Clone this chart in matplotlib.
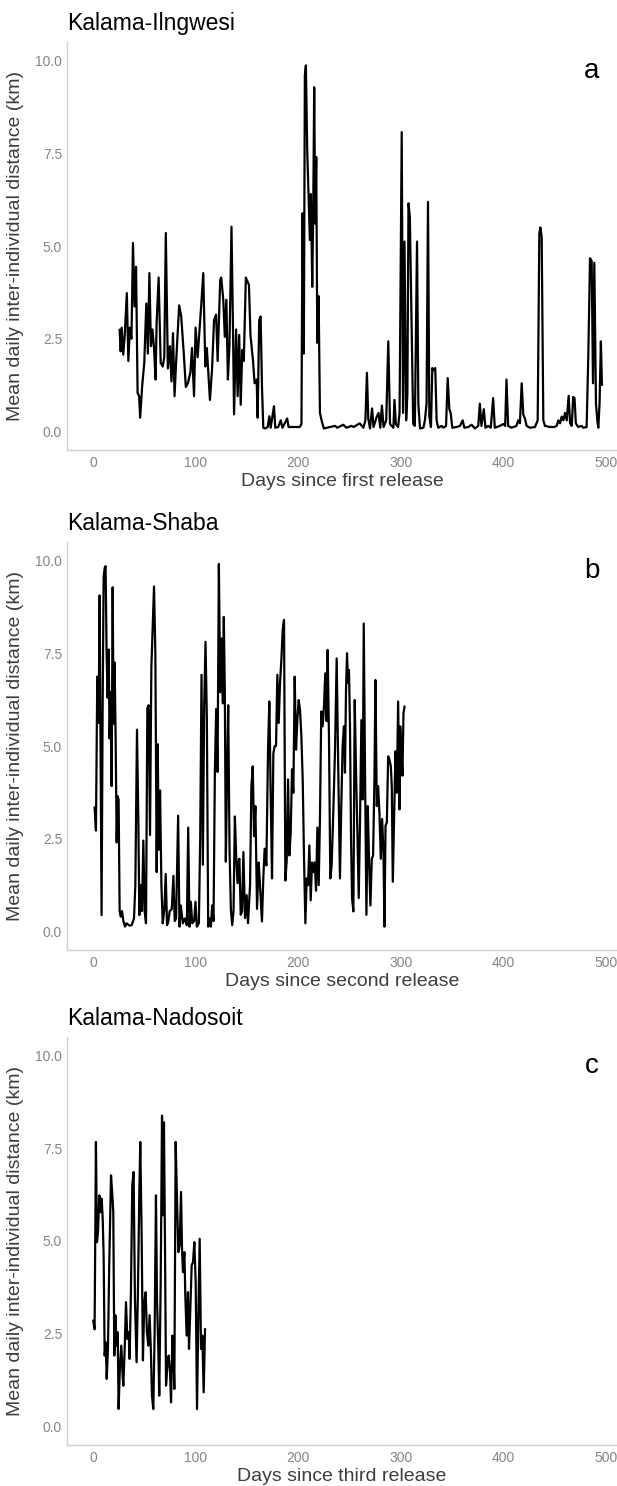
import matplotlib
matplotlib.use("Agg")
import matplotlib.pyplot as plt

plt.rcParams['font.family'] = ['Liberation Sans', 'DejaVu Sans']

# ---------------- data: (day, mean daily inter-individual distance km) ----------------
points_a = [
    (26, 2.74), (27, 2.16), (28, 2.80), (29.5, 2.07), (31, 2.60), (33, 3.73), (34.5, 1.90), (36, 2.80),
    (37.5, 2.50), (39, 5.08), (40.5, 3.37), (42, 4.44), (43.5, 1.04), (45, 0.95), (46, 0.37), (48, 1.24),
    (50, 1.85), (52, 3.45), (53.5, 2.10), (55, 4.27), (56.5, 2.30), (58, 2.75), (59.5, 2.25), (61, 1.40),
    (62, 2.90), (64, 4.15), (66, 1.85), (68, 1.75), (69.5, 2.00), (71, 5.35), (73, 1.70), (75, 2.30),
    (76.5, 1.35), (78, 2.65), (79.5, 0.95), (81, 1.85), (84, 3.40), (86, 3.10), (88.5, 2.10), (90.5, 1.20),
    (92.5, 1.30), (95, 1.60), (96.5, 2.25), (98.5, 0.95), (100, 2.80), (102, 2.00), (104, 2.80),
    (105.5, 3.40), (107.5, 4.27), (109.5, 1.75), (111, 2.25), (114, 0.85), (116, 1.65), (118, 3.00),
    (120, 3.15), (121.5, 1.90), (124, 4.08), (125, 4.15), (127, 3.55), (128.5, 2.55), (130, 3.55),
    (131.5, 1.40), (133, 2.30), (135, 5.52), (136.5, 2.70), (137.5, 0.46), (139.5, 2.75), (141, 0.95),
    (142.5, 2.60), (144, 0.72), (145.5, 2.20), (147, 1.90), (149, 4.15), (150.5, 4.05), (152, 3.95),
    (153.5, 2.60), (156, 1.90), (157.5, 1.30), (159.5, 1.40), (160.5, 0.37), (162, 3.00), (163.4, 3.10),
    (164.7, 1.22), (166, 0.10), (167.7, 0.08), (170.3, 0.12), (171.9, 0.41), (173.2, 0.10), (176.4, 0.68),
    (177.7, 0.10), (180.6, 0.12), (183, 0.30), (184.7, 0.10), (189.3, 0.35), (190.6, 0.12), (195, 0.12),
    (198.3, 0.12), (201.5, 0.12), (203.2, 0.20), (204.2, 5.88), (205.5, 2.10), (206.5, 9.60),
    (207.5, 9.87), (208.8, 7.58), (210.1, 6.32), (211.4, 5.16), (212.4, 6.40), (213.7, 3.90),
    (214.7, 6.05), (215.6, 9.28), (216.6, 5.60), (217.6, 7.40), (218.6, 2.39), (219.9, 3.65),
    (221.2, 0.50), (222.8, 0.30), (225, 0.08), (231, 0.12), (236, 0.15), (238, 0.10), (244, 0.18),
    (247, 0.10), (252, 0.15), (254, 0.12), (260, 0.22), (263.5, 0.10), (265.5, 0.30), (267, 1.58),
    (268.3, 0.35), (270, 0.08), (272, 0.62), (273.4, 0.12), (276.6, 0.40), (278.3, 0.50), (280, 0.10),
    (281.6, 0.70), (283.2, 0.12), (285.8, 0.30), (287.8, 2.43), (289.5, 0.20), (292.8, 0.10),
    (293.8, 0.85), (295.2, 0.20), (297.4, 0.12), (298.8, 0.50), (300.9, 8.07), (302.2, 0.50),
    (303.6, 5.12), (305.2, 0.30), (306.4, 1.00), (307.5, 6.15), (308.8, 5.80), (310.4, 3.00),
    (312.1, 0.20), (313.7, 0.15), (315.8, 5.12), (317.1, 0.75), (318.7, 0.08), (322, 0.10), (323.5, 0.30),
    (325.1, 0.75), (326.5, 6.19), (327.8, 0.40), (329.4, 0.12), (330.7, 1.71), (332.3, 1.65),
    (333.6, 1.71), (334.9, 0.30), (336.5, 0.10), (339.8, 0.15), (341.4, 0.10), (344.1, 0.15),
    (345.7, 1.44), (347.3, 0.60), (348.6, 0.50), (350.2, 0.10), (354.4, 0.12), (357.7, 0.15),
    (360.3, 0.30), (361.9, 0.10), (365.8, 0.12), (369, 0.18), (372.3, 0.08), (375.5, 0.15), (377, 0.75),
    (378.6, 0.15), (380.9, 0.60), (382.5, 0.10), (385.1, 0.15), (387.7, 0.10), (390, 0.90), (391.6, 0.10),
    (396.5, 0.15), (399.8, 0.20), (401.7, 0.15), (403, 1.40), (404.6, 0.15), (407.9, 0.10), (412.7, 0.15),
    (414.4, 0.30), (416.1, 0.22), (417.8, 1.30), (419.4, 0.45), (421, 0.35), (422.6, 0.15), (425.9, 0.10),
    (430.8, 0.12), (433.4, 0.30), (435, 5.34), (436, 5.50), (437.3, 5.25), (438.9, 0.30), (440.5, 0.15),
    (445.4, 0.12), (449.3, 0.12), (451.9, 0.15), (453.5, 0.30), (455.2, 0.22), (456.8, 0.40),
    (458.4, 0.30), (460.1, 0.50), (461.7, 0.30), (463.6, 0.96), (465, 0.22), (466.6, 0.15), (468, 0.93),
    (469.3, 0.90), (470.6, 0.22), (472.9, 0.12), (476.2, 0.15), (477.8, 0.10), (481.1, 0.12), (482.7, 2.00),
    (484.4, 4.67), (486, 4.60), (487.3, 1.30), (488.6, 4.55), (490.2, 0.75), (491.5, 0.30), (492.5, 0.10),
    (493.7, 0.75), (495, 2.43), (496, 1.26),
]

points_b = [
    (1.6, 3.34), (2.9, 2.72), (4.2, 6.87), (5.5, 5.62), (6.5, 9.06), (7.5, 4.37), (8.4, 0.44), (9.4, 5.89),
    (10.4, 9.55), (11.4, 9.80), (12.3, 9.85), (13.3, 7.50), (14.3, 6.30), (15.3, 7.60), (16.2, 5.20),
    (17.2, 6.45), (18.2, 3.92), (19.2, 9.28), (20.1, 5.60), (21.1, 7.25), (22.1, 5.20), (23.1, 2.40),
    (24.0, 3.65), (25.0, 3.55), (26.0, 0.55), (27.0, 0.40), (28.3, 0.55), (29.6, 0.28), (31.2, 0.13),
    (32.8, 0.22), (35.4, 0.16), (37.7, 0.17), (40.0, 0.35), (41.3, 1.25), (42.9, 5.44), (44.2, 3.03),
    (45.2, 0.44), (46.5, 1.25), (47.8, 0.55), (49.1, 2.45), (50.4, 0.55), (51.7, 0.22), (53.0, 6.02),
    (54.3, 6.10), (55.6, 2.60), (56.9, 7.10), (58.2, 8.20), (59.5, 9.30), (60.8, 7.50), (62.1, 1.60),
    (63.1, 5.05), (64.1, 2.20), (65.4, 3.80), (66.7, 1.25), (68.0, 0.22), (69.6, 0.60), (70.9, 1.55),
    (72.2, 0.17), (73.5, 0.28), (74.8, 0.55), (76.8, 0.60), (78.4, 1.50), (79.7, 0.28), (81.0, 0.35),
    (83.0, 3.12), (84.3, 0.13), (85.6, 0.70), (87.6, 0.22), (89.5, 0.35), (91.5, 0.17), (92.8, 2.80),
    (94.1, 0.13), (95.4, 0.80), (96.7, 0.22), (98.6, 0.28), (99.9, 0.80), (101.2, 0.13), (103.2, 0.22),
    (104.5, 2.50), (105.8, 6.92), (107.1, 1.80), (108.4, 6.10), (109.7, 7.81), (111.0, 5.70),
    (112.3, 0.13), (113.6, 0.35), (114.9, 0.13), (116.2, 0.70), (117.5, 0.28), (118.8, 4.30),
    (120.1, 6.00), (121.4, 4.30), (122.7, 9.91), (124.0, 6.45), (125.3, 7.90), (126.6, 6.15),
    (127.5, 8.48), (128.5, 6.50), (129.5, 1.88), (130.5, 3.92), (131.8, 6.10), (133.1, 2.20),
    (134.4, 0.60), (135.7, 0.17), (137.0, 0.55), (138.3, 3.10), (139.6, 2.00), (140.9, 1.30),
    (142.0, 1.90), (142.7, 1.96), (144.0, 0.45), (145.3, 0.54), (146.6, 2.14), (148.2, 0.36),
    (149.8, 0.98), (151.1, 0.22), (153.1, 1.25), (154.4, 3.92), (155.7, 4.45), (157.0, 2.57),
    (158.3, 3.38), (159.9, 0.61), (161.5, 1.86), (162.8, 1.25), (164.7, 0.27), (166.0, 1.43),
    (167.3, 2.23), (169.0, 1.78), (170.6, 4.90), (171.9, 6.20), (173.2, 3.65), (174.5, 1.43),
    (175.8, 4.80), (177.1, 5.00), (178.4, 5.00), (179.7, 6.92), (181.0, 5.62), (182.3, 6.70),
    (183.6, 7.32), (184.9, 8.13), (186.2, 8.40), (187.5, 1.37), (188.8, 1.90), (190.1, 4.10),
    (191.4, 2.05), (192.7, 2.67), (194.0, 4.37), (195.3, 3.74), (196.6, 6.87), (197.9, 4.90),
    (199.2, 5.70), (200.5, 6.24), (201.8, 5.97), (203.1, 5.26), (204.4, 4.10), (205.7, 1.96),
    (207.0, 0.22), (208.3, 1.43), (209.6, 1.25), (210.9, 2.32), (212.2, 0.84), (213.5, 1.86),
    (214.8, 1.60), (216.1, 1.86), (217.4, 1.10), (218.7, 2.80), (220.0, 1.25), (221.2, 3.03),
    (222.5, 5.93), (223.8, 5.53), (225.1, 6.06), (226.4, 6.96), (227.7, 5.67), (228.7, 7.59),
    (230.0, 5.26), (231.3, 1.43), (232.6, 1.78), (234.2, 3.20), (235.9, 4.90), (237.5, 7.36),
    (239.1, 4.28), (240.7, 1.43), (242.0, 3.38), (243.3, 5.00), (244.6, 5.53), (245.6, 4.28),
    (246.6, 6.50), (247.6, 7.50), (248.6, 6.70), (249.5, 7.05), (250.5, 5.53), (251.5, 2.50),
    (252.5, 0.90), (253.8, 0.54), (255.1, 6.24), (256.4, 4.28), (257.7, 2.67), (259.0, 0.90),
    (260.3, 3.03), (261.6, 5.70), (262.9, 3.56), (263.9, 8.30), (265.2, 4.10), (266.5, 0.45),
    (267.8, 3.38), (269.1, 1.86), (270.4, 0.70), (271.7, 1.96), (273.0, 2.05), (274.3, 4.10),
    (275.3, 6.78), (276.6, 3.38), (277.9, 3.92), (279.2, 3.20), (280.5, 1.96), (281.8, 3.03),
    (283.1, 2.14), (284.1, 0.13), (285.1, 2.85), (286.4, 2.94), (287.7, 4.72), (289.0, 4.63),
    (290.3, 4.45), (291.2, 3.92), (292.2, 1.34), (293.5, 3.12), (294.8, 4.86), (296.1, 3.74),
    (297.4, 6.20), (298.7, 3.29), (299.4, 5.53), (300.7, 4.80), (301.6, 4.20), (302.6, 5.88),
    (303.6, 6.06),
]

points_c = [
    (0.3, 2.85), (1.6, 2.62), (2.9, 7.67), (3.9, 4.97), (4.9, 5.24), (6.2, 6.23), (7.5, 5.78), (8.5, 6.14),
    (9.5, 5.60), (10.4, 4.61), (11.4, 1.91), (12.4, 2.27), (13.4, 1.28), (14.6, 2.09), (15.9, 4.43),
    (17.6, 6.77), (18.9, 6.23), (19.8, 5.78), (20.8, 1.91), (21.8, 3.00), (23.1, 2.18), (24.1, 2.54),
    (25.0, 0.47), (26.3, 1.64), (27.6, 2.18), (28.9, 1.37), (29.6, 1.10), (30.9, 2.09), (32.2, 3.35),
    (33.5, 2.36), (34.8, 2.54), (35.7, 1.82), (37.0, 3.62), (38.3, 6.50), (39.6, 6.86), (40.9, 3.44),
    (42.5, 1.73), (43.8, 3.62), (45.1, 6.14), (46.1, 7.67), (47.4, 5.24), (48.7, 1.78), (50.0, 3.35),
    (51.3, 3.62), (52.6, 2.54), (53.9, 2.18), (55.2, 3.00), (56.5, 2.00), (57.5, 0.83), (58.8, 0.47),
    (60.1, 2.54), (61.4, 6.23), (62.4, 3.44), (63.7, 2.09), (64.6, 0.83), (66.0, 3.89), (67.3, 8.38),
    (68.2, 5.69), (69.2, 8.20), (70.2, 4.88), (71.2, 1.10), (72.5, 1.64), (73.8, 1.91), (75.1, 1.46),
    (76.1, 0.65), (77.4, 2.45), (78.4, 2.00), (79.3, 1.01), (80.6, 7.67), (81.9, 6.14), (83.2, 4.70),
    (84.5, 4.88), (85.8, 6.32), (86.8, 4.79), (87.7, 4.16), (89.1, 4.70), (90.0, 3.53), (91.3, 2.45),
    (92.6, 3.62), (93.6, 2.09), (94.9, 3.17), (96.2, 4.34), (97.5, 4.43), (98.8, 4.97), (100.1, 3.89),
    (101.4, 0.47), (102.7, 3.00), (104.0, 5.06), (105.3, 2.09), (106.6, 2.45), (107.9, 0.92),
    (109.2, 2.62),
]

titles = ["Kalama-Ilngwesi", "Kalama-Shaba", "Kalama-Nadosoit"]
panel_letters = ["a", "b", "c"]
xlabels = ["Days since first release", "Days since second release", "Days since third release"]
ylabel = "Mean daily inter-individual distance (km)"
xticks = [0, 100, 200, 300, 400, 500]
yticks = [0.0, 2.5, 5.0, 7.5, 10.0]
ytick_labels = ["0.0", "2.5", "5.0", "7.5", "10.0"]

# ---------------- figure ----------------
W, H = 617, 1486
fig = plt.figure(figsize=(W / 100, H / 100), dpi=100)

panel_px = [(42, 450), (542, 950), (1037, 1445)]  # top, bottom of each panel in pixels
left_px, right_px = 67, 617
series = [points_a, points_b, points_c]

for i, ((top, bot), pts) in enumerate(zip(panel_px, series)):
    ax = fig.add_axes([left_px / W, 1 - bot / H, (right_px - left_px) / W, (bot - top) / H])
    dx = [p[0] for p in pts]
    dy = [p[1] for p in pts]
    ax.plot(dx, dy, color="black", lw=1.6)
    ax.set_xlim(-25.3, 510.7)
    ax.set_ylim(-0.5, 10.5)
    ax.set_xticks(xticks)
    ax.set_xticklabels([str(t) for t in xticks])
    ax.set_yticks(yticks)
    ax.set_yticklabels(ytick_labels)
    ax.tick_params(axis="x", length=0, labelsize=10, labelcolor="#858585", pad=4)
    ax.tick_params(axis="y", length=0, labelsize=10, labelcolor="#858585", pad=3.5)
    for s in ["top", "right"]:
        ax.spines[s].set_visible(False)
    for s in ["left", "bottom"]:
        ax.spines[s].set_color("#d0d0d0")
        ax.spines[s].set_linewidth(1.0)
    # axis titles
    fig.text((left_px + right_px) / 2 / W, 1 - (bot + 36) / H, xlabels[i], fontsize=14,
             ha="center", va="baseline", color="#3d3d3d")
    fig.text(16 / W, 1 - (top + bot) / 2 / H, ylabel, fontsize=14, rotation=90,
             ha="center", va="center", color="#3d3d3d")
    # panel letter
    fig.text(592 / W, 1 - (top + 29) / H, panel_letters[i], fontsize=20,
             ha="center", va="center", color="black")
    # panel title
    fig.text(67 / W, 1 - (top - 12) / H, titles[i], fontsize=16.5, ha="left", va="baseline",
             color="black")

fig.savefig("out.png", dpi=100)
